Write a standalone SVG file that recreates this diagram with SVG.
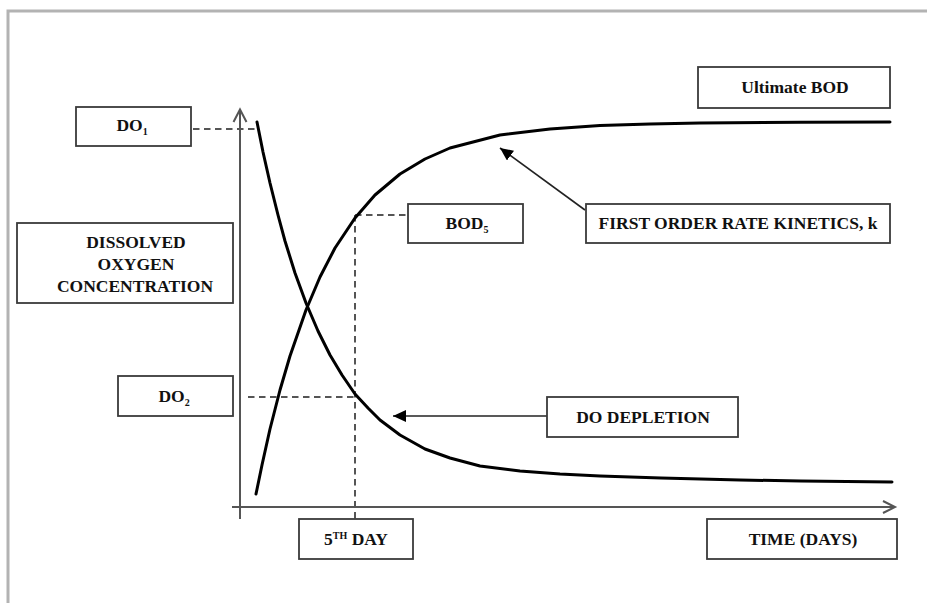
<svg xmlns="http://www.w3.org/2000/svg" width="927" height="603" viewBox="0 0 927 603">
<defs>
<style>
.box{fill:#fff;stroke:#3a3a3a;stroke-width:1.8}
.t{font-family:"Liberation Serif","Times New Roman",serif;font-weight:bold;font-size:17.5px;fill:#111;text-anchor:middle}
.sub{font-size:10px}
.axis{stroke:#555;stroke-width:2;fill:none}
.dash{stroke:#555;stroke-width:2;fill:none;stroke-dasharray:6.5 4.5}
.curve{stroke:#000;stroke-width:3;fill:none;stroke-linejoin:round;stroke-linecap:round}
.arr{stroke:#222;stroke-width:1.6;fill:none}
</style>
<marker id="ah" markerWidth="14" markerHeight="12" refX="13" refY="6" orient="auto" markerUnits="userSpaceOnUse">
<path d="M0,0 L13,6 L0,12 Z" fill="#000"/>
</marker>
</defs>
<rect width="927" height="603" fill="#fff"/>
<g id="frame" fill="none" stroke="#b3b3b3" stroke-width="3">
<path d="M8,603 V11 H927"/>
</g>
<g id="connectors">
<path class="axis" d="M240,519 V110"/>
<path class="axis" d="M233.5,122 L240,109.5 L246.5,122"/>
<path class="axis" d="M232,507 H894"/>
<path class="axis" d="M883,501 L895,507 L883,513"/>
<path class="dash" d="M193,129 H257"/>
<path class="dash" d="M355,215 H408"/>
<path class="dash" d="M355,215 V519"/>
<path class="dash" d="M248,397 H355"/>
<polyline class="curve" points="257,122 263,152 270,183 278,215 285,241 295,273 306,303 318,331 330,355 342,375 355,394 368,408 380,420 400,435 425,449 450,458 480,466 520,471 560,474 600,476 661,478 740,480 801,481 892,482"/>
<polyline class="curve" points="256,494 262,465 270,429 280,390 290,356 306,310 320,277 335,248 355,218 375,195 400,174 425,159 450,148 500,135 550,129 600,125.5 650,124 700,123 800,122.2 890,122"/>
<path class="arr" d="M585,210 L500,148" marker-end="url(#ah)"/>
<path class="arr" d="M547,416 L393,416" marker-end="url(#ah)"/>
</g>
<g id="ultimate-bod"><rect class="box" x="698" y="67" width="192" height="41"/><text class="t" x="795" y="93">Ultimate BOD</text></g>
<g id="do1"><rect class="box" x="76" y="107" width="115" height="39"/><text class="t" x="132" y="131">DO<tspan class="sub" dy="4">1</tspan></text></g>
<g id="dissolved"><rect class="box" x="17" y="223" width="216" height="80"/><text class="t" x="136" y="248">DISSOLVED</text><text class="t" x="136" y="270">OXYGEN</text><text class="t" x="135" y="292">CONCENTRATION</text></g>
<g id="bod5"><rect class="box" x="408" y="204" width="115" height="39"/><text class="t" x="467" y="229">BOD<tspan class="sub" dy="4">5</tspan></text></g>
<g id="first-order"><rect class="box" x="586" y="204" width="304" height="39"/><text class="t" x="738" y="229">FIRST ORDER RATE KINETICS, k</text></g>
<g id="do2"><rect class="box" x="118" y="376" width="115" height="40"/><text class="t" x="174" y="402">DO<tspan class="sub" dy="4">2</tspan></text></g>
<g id="do-depletion"><rect class="box" x="547" y="397" width="191" height="40"/><text class="t" x="643" y="423">DO DEPLETION</text></g>
<g id="fifth-day"><rect class="box" x="299" y="519" width="114" height="40"/><text class="t" x="356" y="545">5<tspan class="sub" dy="-6">TH</tspan><tspan dy="6"> DAY</tspan></text></g>
<g id="time-days"><rect class="box" x="707" y="519" width="190" height="40"/><text class="t" x="803" y="545">TIME (DAYS)</text></g>
</svg>
